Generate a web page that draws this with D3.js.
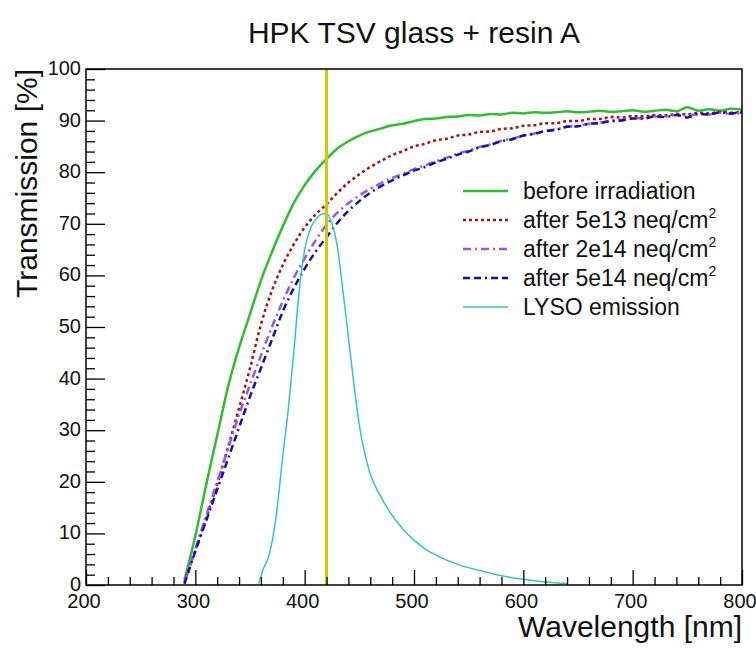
<!DOCTYPE html>
<html>
<head>
<meta charset="utf-8">
<script src="https://cdn.jsdelivr.net/npm/d3@7"></script>
<style>
  body { margin: 0; background: #fff; }
  svg { display: block; font-family: "Liberation Sans", Arial, sans-serif; }
</style>
</head>
<body>
<svg id="chart"></svg>
<script>
// wavelength grid (nm) shared by the four transmission curves
const wavelength = [290, 300, 310, 320, 330, 340, 350, 360, 370, 380, 390, 400, 410, 420, 430, 440, 450,
  460, 470, 480, 490, 500, 510, 520, 530, 540, 550, 560, 570, 580, 590, 600, 610, 620, 630, 640, 650,
  660, 670, 680, 690, 700, 710, 720, 730, 740, 750, 760, 770, 780, 790, 800];

// transmission [%]
const beforeIrr = [1, 9.5, 19.5, 29, 38.5, 46, 52.5, 59, 64.5, 69.5, 74, 77.5, 80.3, 82.6, 84.6, 86, 87.1,
  87.9, 88.5, 89.1, 89.4, 89.9, 90.3, 90.4, 90.7, 90.8, 91.1, 91.0, 91.3, 91.2, 91.5, 91.4, 91.6, 91.5, 91.6, 91.8, 91.6,
  91.7, 91.9, 91.7, 91.8, 92.0, 91.7, 91.9, 92.1, 91.8, 92.6, 91.9, 92.2, 91.9, 92.3, 92.1];
const after5e13 = [0.5, 6.8, 13, 19.5, 26.8, 34.3, 42, 50.5, 57, 62, 66, 69.3, 71.8, 73.8, 76, 78, 79.6,
  81, 82.2, 83.3, 84.1, 85, 85.5, 86.2, 86.5, 87.1, 87.3, 87.8, 87.9, 88.4, 88.5, 89, 89.1, 89.5, 89.5, 89.9, 89.9,
  90.3, 90.3, 90.7, 90.6, 90.9, 90.8, 91.1, 91.0, 91.3, 91.2, 91.5, 91.4, 91.7, 91.5, 91.7];
const after2e14 = [0.5, 7, 13.5, 20, 26.5, 33, 38.8, 44.5, 50, 55, 59.5, 63.3, 66.8, 69.8, 72.2, 74, 75.5,
  76.8, 77.9, 78.9, 79.7, 80.6, 81.3, 82.1, 82.8, 83.6, 84.2, 84.9, 85.4, 86.1, 86.5, 87.1, 87.5, 88, 88.3, 88.8, 89,
  89.4, 89.6, 90, 90.1, 90.4, 90.5, 90.8, 90.8, 91.1, 91.0, 91.3, 91.2, 91.5, 91.3, 91.5];
const after5e14 = [0.2, 6.5, 12.5, 18.5, 24.5, 30.5, 36.5, 42, 47.5, 53, 57.5, 61.3, 64.6, 67.4, 70.2, 72.5, 74.4,
  76, 77.3, 78.4, 79.4, 80.3, 81, 81.9, 82.6, 83.4, 84, 84.8, 85.3, 86, 86.4, 87.1, 87.4, 88, 88.2, 88.8, 88.9,
  89.4, 89.5, 89.9, 90, 90.4, 90.4, 90.8, 90.7, 91.1, 90.6, 91.3, 91.2, 91.6, 91.4, 91.6];

// LYSO emission spectrum (arbitrary scale, drawn on the same axis)
const lysoWavelength = [358, 362, 368, 374, 380, 385, 390, 395, 400, 405, 410, 415, 420, 425, 430, 435, 440,
  445, 450, 455, 460, 470, 480, 490, 500, 510, 520, 540, 560, 580, 600, 620, 640];
const lysoEmission = [0.3, 3, 6.2, 13.5, 25, 34, 45, 57, 65, 69, 70.8, 71.8, 72, 70, 65.5, 57, 48,
  39, 31, 25.5, 21.5, 17, 13.5, 10.8, 8.7, 7, 5.8, 4, 2.8, 1.8, 1.1, 0.6, 0.3];

const markerWavelength = 420;

const seriesNames = ['before irradiation', 'after 5e13 neq/cm', 'after 2e14 neq/cm', 'after 5e14 neq/cm', 'LYSO emission'];
const seriesSup = ['', '2', '2', '2', ''];

const xTicks = [200, 300, 400, 500, 600, 700, 800];
const yTicks = [0, 10, 20, 30, 40, 50, 60, 70, 80, 90, 100];

const width = 756;
const height = 651;
const margin = { top: 69, right: 14, bottom: 66, left: 86 };

const svg = d3.select('#chart')
  .attr('width', width)
  .attr('height', height);

const x = d3.scaleLinear()
  .domain([200, 800])
  .range([margin.left, width - margin.right]);

const y = d3.scaleLinear()
  .domain([0, 100])
  .range([height - margin.bottom, margin.top]);

const series = [
  { name: seriesNames[0], sup: seriesSup[0], xs: wavelength, ys: beforeIrr, color: '#2ebf2e', w: 2.5, dash: null },
  { name: seriesNames[1], sup: seriesSup[1], xs: wavelength, ys: after5e13, color: '#aa1111', w: 2.5, dash: '3,3' },
  { name: seriesNames[2], sup: seriesSup[2], xs: wavelength, ys: after2e14, color: '#9955ee', w: 2.5, dash: '8,4,2,4' },
  { name: seriesNames[3], sup: seriesSup[3], xs: wavelength, ys: after5e14, color: '#1111aa', w: 2.5, dash: '7,4,7,4,2,4' },
  { name: seriesNames[4], sup: seriesSup[4], xs: lysoWavelength, ys: lysoEmission, color: '#33c4c4', w: 1.5, dash: null }
];

const line = d3.line()
  .curve(d3.curveMonotoneX)
  .x(d => x(d[0]))
  .y(d => y(d[1]));

// curves
series.forEach(s => {
  svg.append('path')
    .datum(s.xs.map((v, i) => [v, s.ys[i]]))
    .attr('fill', 'none')
    .attr('stroke', s.color)
    .attr('stroke-width', s.w)
    .attr('stroke-dasharray', s.dash)
    .attr('d', line);
});

// 420 nm marker
svg.append('line')
  .attr('x1', x(markerWavelength)).attr('x2', x(markerWavelength))
  .attr('y1', y(0)).attr('y2', y(100))
  .attr('stroke', '#d2c800')
  .attr('stroke-width', 3);

// frame
svg.append('rect')
  .attr('x', x(200)).attr('y', y(100))
  .attr('width', x(800) - x(200)).attr('height', y(0) - y(100))
  .attr('fill', 'none')
  .attr('stroke', '#000')
  .attr('stroke-width', 1.5);

// axes with inward ticks
const xAxis = svg.append('g')
  .attr('transform', `translate(0,${y(0)})`)
  .call(d3.axisBottom(x).tickValues(d3.range(200, 801, 20)).tickSize(-8).tickFormat(''));
xAxis.selectAll('.tick line')
  .filter(d => d % 100 === 0)
  .attr('y2', -15);

const yAxis = svg.append('g')
  .attr('transform', `translate(${x(200)},0)`)
  .call(d3.axisLeft(y).tickValues(d3.range(0, 101, 2)).tickSize(-9).tickFormat(''));
yAxis.selectAll('.tick line')
  .filter(d => d % 10 === 0)
  .attr('x2', 19);

[xAxis, yAxis].forEach(g => {
  g.select('.domain').remove();
  g.selectAll('.tick line').attr('stroke', '#000').attr('stroke-width', 1.3);
});

svg.append('g')
  .selectAll('text')
  .data(xTicks)
  .join('text')
  .attr('x', d => x(d) - 2)
  .attr('y', y(0) + 23)
  .attr('text-anchor', 'middle')
  .attr('font-size', 20)
  .attr('fill', '#111')
  .text(d => d);

svg.append('g')
  .selectAll('text')
  .data(yTicks)
  .join('text')
  .attr('x', x(200) - 5)
  .attr('y', d => y(d) + 6)
  .attr('text-anchor', 'end')
  .attr('font-size', 20)
  .attr('fill', '#111')
  .text(d => d);

// titles
svg.append('text')
  .attr('x', 414)
  .attr('y', 43)
  .attr('text-anchor', 'middle')
  .attr('font-size', 30)
  .attr('fill', '#111')
  .text('HPK TSV glass + resin A');

svg.append('text')
  .attr('x', x(800))
  .attr('y', 637)
  .attr('text-anchor', 'end')
  .attr('font-size', 30)
  .attr('fill', '#111')
  .text('Wavelength [nm]');

svg.append('text')
  .attr('transform', `translate(37,${y(100)}) rotate(-90)`)
  .attr('text-anchor', 'end')
  .attr('font-size', 30)
  .attr('fill', '#111')
  .text('Transmission [%]');

// legend
const legend = svg.append('g').attr('transform', 'translate(463,191)');
series.forEach((s, i) => {
  const row = legend.append('g').attr('transform', `translate(0,${i * 29})`);
  row.append('line')
    .attr('x1', 0).attr('x2', 45)
    .attr('stroke', s.color)
    .attr('stroke-width', s.w)
    .attr('stroke-dasharray', s.dash);
  const t = row.append('text')
    .attr('x', 60)
    .attr('y', 8)
    .attr('font-size', 23)
    .attr('fill', '#111')
    .text(s.name);
  if (s.sup) {
    t.append('tspan')
      .attr('dy', -10)
      .attr('font-size', 14)
      .text(s.sup);
  }
});
</script>
</body>
</html>
